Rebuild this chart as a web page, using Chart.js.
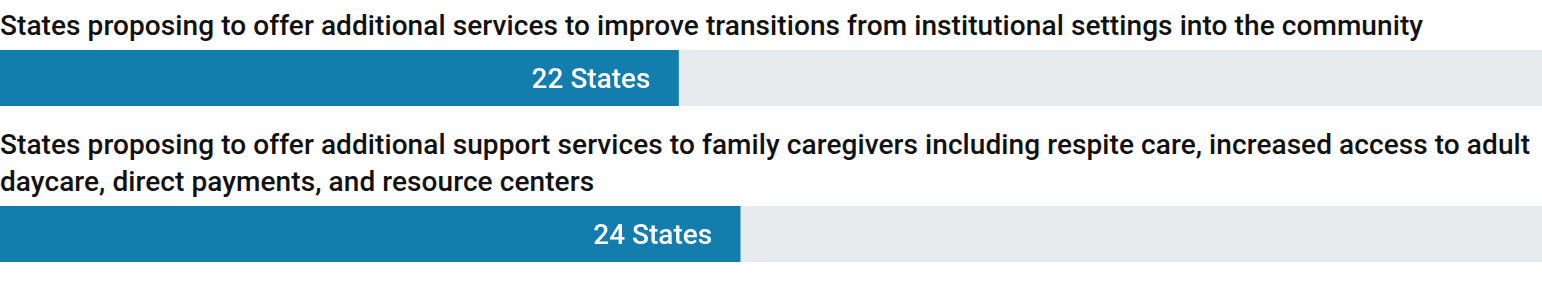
<!DOCTYPE html>
<html>
<head>
<meta charset="utf-8">
<script src="https://cdn.jsdelivr.net/npm/chart.js@4"></script>
<style>
  body { margin: 0; background: #fff; font-family: Roboto, sans-serif; }
  .title { font-weight: 500; font-size: 28px; letter-spacing: 0.08px; color: #111; line-height: 36.7px; box-sizing: border-box; padding-right: 4px; }
  #t1 { height: 50px; padding-top: 8px; }
  #t2 { height: 100px; padding-top: 21px; }
  .bar { height: 56px; width: 1542px; }
</style>
</head>
<body>
<div class="title" id="t1"></div>
<div class="bar"><canvas id="c1" width="1542" height="56"></canvas></div>
<div class="title" id="t2"></div>
<div class="bar"><canvas id="c2" width="1542" height="56"></canvas></div>

<script>
const categories = [
  'States proposing to offer additional services to improve transitions from institutional settings into the community',
  'States proposing to offer additional support services to family caregivers including respite care, increased access to adult daycare, direct payments, and resource centers'
];
const stateCounts = [22, 24];
const totalStates = 50;
const valueLabels = stateCounts.map(n => n + ' States');

// draw the "NN States" text inside the end of the blue bar
const insideLabel = {
  id: 'insideLabel',
  afterDatasetsDraw(chart, args, opts) {
    const bar = chart.getDatasetMeta(1).data[0];
    const ctx = chart.ctx;
    ctx.save();
    ctx.font = '500 28px Roboto';
    ctx.fillStyle = '#fff';
    ctx.textAlign = 'right';
    ctx.textBaseline = 'alphabetic';
    ctx.fillText(opts.text, bar.x - 28, bar.y + 9.5);
    ctx.restore();
  }
};

function makeBar(id, i) {
  document.getElementById('t' + (i + 1)).textContent = categories[i];
  new Chart(document.getElementById(id), {
    type: 'bar',
    data: {
      labels: [categories[i]],
      datasets: [
        {
          data: [totalStates],
          backgroundColor: '#e7ebee',
          grouped: false,
          order: 2,
          barPercentage: 1,
          categoryPercentage: 1
        },
        {
          data: [stateCounts[i]],
          backgroundColor: '#137dae',
          grouped: false,
          order: 1,
          barPercentage: 1,
          categoryPercentage: 1
        }
      ]
    },
    options: {
      indexAxis: 'y',
      responsive: false,
      animation: false,
      layout: { padding: 0 },
      scales: {
        x: { min: 0, max: totalStates, display: false },
        y: { display: false }
      },
      plugins: {
        legend: { display: false },
        tooltip: { enabled: false },
        insideLabel: { text: valueLabels[i] }
      }
    },
    plugins: [insideLabel]
  });
}

makeBar('c1', 0);
makeBar('c2', 1);
</script>
</body>
</html>
